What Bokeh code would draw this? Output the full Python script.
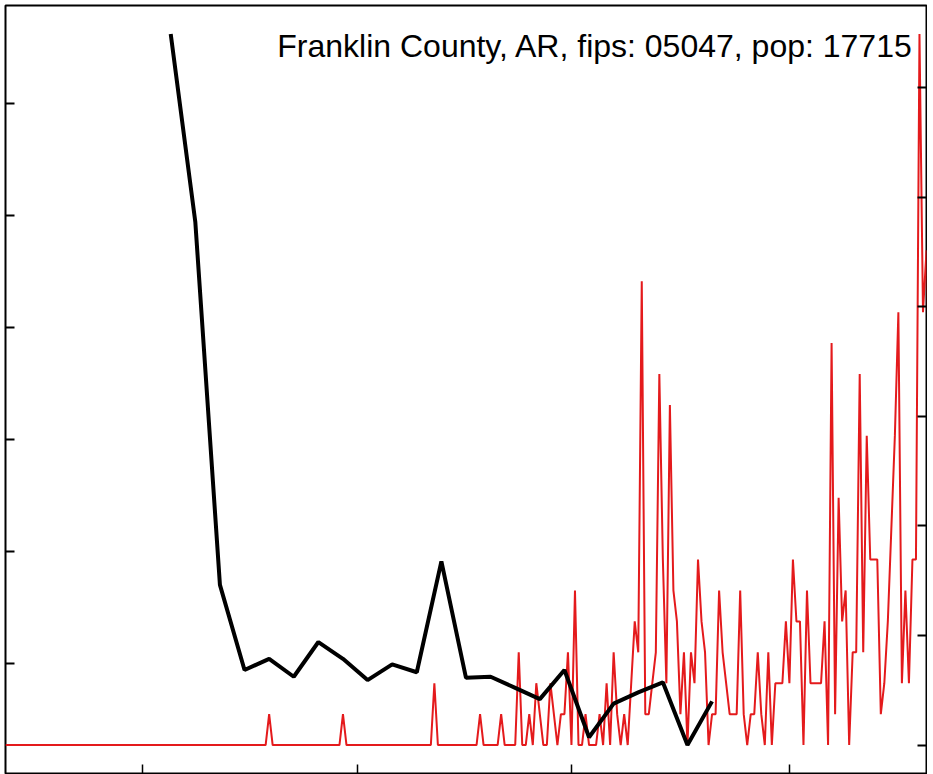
import pandas as pd
from bokeh.plotting import figure
from bokeh.models import Range1d, LinearAxis, FixedTicker, Label, CustomJSTickFormatter
from bokeh.embed import file_html
from bokeh.resources import INLINE

TITLE = "Franklin County, AR, fips: 05047, pop: 17715"
POPULATION = 17715

# daily new cases, starting 2020-01-22 (red series, right axis as cases per 100k)
daily_start = "2020-01-22"
daily_cases = [
    # Jan 22 - Feb 29
    0, 0, 0, 0, 0, 0, 0, 0, 0, 0, 0, 0, 0, 0, 0, 0, 0, 0, 0, 0,
    0, 0, 0, 0, 0, 0, 0, 0, 0, 0, 0, 0, 0, 0, 0, 0, 0, 0, 0,
    # Mar 1 - Apr 5
    0, 0, 0, 0, 0, 0, 0, 0, 0, 0, 0, 0, 0, 0, 0, 0, 0, 0, 0, 0,
    0, 0, 0, 0, 0, 0, 0, 0, 0, 0, 0, 0, 0, 0, 0, 0,
    # Apr 6 - Apr 26
    1, 0, 0, 0, 0, 0, 0, 0, 0, 0, 0, 0, 0, 0, 0, 0, 0, 0, 0, 0, 0,
    # Apr 27 - May 22
    1, 0, 0, 0, 0, 0, 0, 0, 0, 0, 0, 0, 0, 0, 0, 0, 0, 0, 0, 0,
    0, 0, 0, 0, 0, 0,
    # May 23 - Jun 4
    2, 0, 0, 0, 0, 0, 0, 0, 0, 0, 0, 0, 0,
    # Jun 5 - Jun 15
    1, 0, 0, 0, 0, 0, 1, 0, 0, 0, 0,
    # Jun 16 - Jun 30
    3, 0, 0, 1, 0, 2, 1, 0, 0, 2, 1, 0, 1, 1, 3,
    # Jul 1 - Jul 20
    0, 5, 0, 0, 1, 0, 0, 0, 1, 0, 2, 0, 3, 1, 0, 1, 0, 2, 4, 3,
    # Jul 21 - Aug 9
    15, 1, 1, 2, 3, 12, 6, 2, 11, 5, 4, 1, 3, 0, 3, 2, 6, 4, 3, 0,
    # Aug 10 - Aug 29
    1, 1, 5, 3, 2, 1, 1, 1, 5, 1, 0, 1, 1, 3, 1, 0, 3, 0, 2, 2,
    # Aug 30 - Sep 18
    2, 4, 2, 6, 4, 4, 0, 5, 2, 2, 2, 2, 4, 0, 13, 1, 8, 4, 5, 0,
    # Sep 19 - Oct 11
    3, 3, 12, 3, 10, 6, 6, 6, 1, 2, 4, 7, 10, 14, 2, 5, 2, 6, 6, 23,
    14, 16, 11,
]

# weekly series (black, left axis)
weekly_start = "2020-03-09"
weekly_values = [
    6.62, 4.94, 1.70, 0.94, 1.04, 0.88, 1.19, 1.04, 0.85, 0.99, 0.92, 1.91,
    0.87, 0.88, 0.78, 0.68, 0.94, 0.34, 0.64, 0.74, 0.83, 0.27, 0.66,
]

x_window = ["2020-01-22", "2020-10-10"]
x_tick_dates = ["2020-03-01", "2020-05-01", "2020-07-01", "2020-09-01"]
left_ticks = [1, 2, 3, 4, 5, 6]
right_ticks = [0, 20, 40, 60, 80, 100, 120]

daily_dates = pd.date_range(daily_start, periods=len(daily_cases), freq="D")
daily_rate = [c * 100000 / POPULATION for c in daily_cases]
weekly_dates = pd.date_range(weekly_start, periods=len(weekly_values), freq="7D")


def padded(lo, hi, f=0.04):
    span = hi - lo
    return lo - f * span, hi + f * span


b0, b1 = padded(min(weekly_values), max(weekly_values))
r0, r1 = padded(min(daily_rate), max(daily_rate))

x0 = pd.Timestamp(x_window[0])
x1 = pd.Timestamp(x_window[1])

p = figure(
    width=927, height=774,
    x_axis_type="datetime",
    x_range=Range1d(x0, x1),
    y_range=Range1d(b0, b1),
    output_backend="svg",
    toolbar_location=None,
    min_border=1,
    min_border_left=5,
    min_border_top=5,
)
p.extra_y_ranges = {"rate": Range1d(r0, r1)}
p.add_layout(LinearAxis(y_range_name="rate"), "right")

p.grid.visible = False
p.outline_line_color = "black"
p.outline_line_width = 2
p.background_fill_color = "white"
p.border_fill_color = "white"

blank = CustomJSTickFormatter(code="return '';")
for ax in p.axis:
    ax.axis_line_color = None
    ax.major_tick_in = 9
    ax.major_tick_out = 0
    ax.minor_tick_line_color = None
    ax.major_tick_line_color = "black"
    ax.major_tick_line_width = 2
    ax.formatter = blank
    ax.major_label_text_font_size = "1px"
    ax.major_label_standoff = 0
    ax.axis_label = None

p.xaxis.ticker = FixedTicker(ticks=[pd.Timestamp(d).value / 1e6 for d in x_tick_dates])
p.xaxis.major_tick_line_width = 1.5
p.yaxis[0].ticker = FixedTicker(ticks=left_ticks)
p.yaxis[1].ticker = FixedTicker(ticks=right_ticks)

p.line(daily_dates, daily_rate, y_range_name="rate", line_color="#e41a1c", line_width=2)
p.line(weekly_dates, weekly_values, line_color="black", line_width=4)

p.add_layout(Label(
    x=908, y=728, x_units="screen", y_units="screen",
    text=TITLE, text_align="right", text_baseline="alphabetic",
    text_font="Liberation Sans", text_font_size="32px", text_color="black",
))

open("out.html", "w").write(file_html(p, INLINE))
